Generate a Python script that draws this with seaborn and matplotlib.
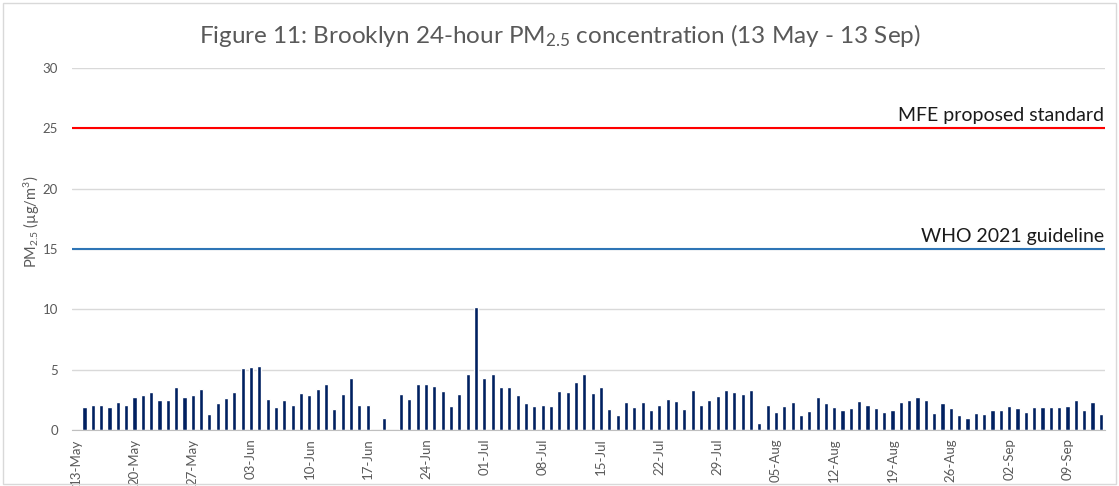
import matplotlib
matplotlib.use("Agg")
import matplotlib.pyplot as plt
import matplotlib.patches as patches
import numpy as np
import pandas as pd
import seaborn as sns

# daily 24-hour PM2.5, 13 May - 13 Sep (nan = no data)
may = [np.nan, 1.94, 2.06, 2.11, 1.89, 2.31, 2.06, 2.72, 2.92, 3.14, 2.5, 2.5,
       3.61, 2.78, 2.94, 3.44, 1.33, 2.25, 2.67]
jun = [3.14, 5.11, 5.25, 5.28, 2.58, 1.94, 2.53, 2.11, 3.08, 2.94, 3.39, 3.81,
       1.78, 2.97, 4.28, 2.08, 2.11, np.nan, 1.0, np.nan, 3.03, 2.56, 3.81, 3.81,
       3.69, 3.28, 2.0, 3.03, 4.61, 10.17]
jul = [4.33, 4.64, 3.56, 3.61, 2.92, 2.25, 2.0, 2.11, 2.0, 3.22, 3.17, 4.0,
       4.64, 3.08, 3.56, 1.78, 1.22, 2.36, 1.94, 2.36, 1.69, 2.06, 2.58, 2.44,
       1.78, 3.33, 2.11, 2.53, 2.83, 3.36, 3.17]
aug = [3.03, 3.33, 0.61, 2.11, 1.47, 2.0, 2.36, 1.22, 1.61, 2.78, 2.25, 1.94,
       1.69, 1.83, 2.44, 2.06, 1.86, 1.53, 1.64, 2.36, 2.53, 2.78, 2.5, 1.39,
       2.25, 1.83, 1.28, 1.0, 1.44, 1.33, 1.69]
sep = [1.64, 2.0, 1.83, 1.53, 1.89, 1.94, 1.94, 1.89, 2.0, 2.5, 1.69, 2.31, 1.33]

dates = pd.date_range("2023-05-13", "2023-09-13", freq="D")
labels = [d.strftime("%d-%b") for d in dates]
pm25 = may + jun + jul + aug + sep

mfe_standard = 25
who_guideline = 15

sns.set_style("white")
plt.rcParams["font.family"] = ["Lato", "DejaVu Sans"]
plt.rcParams["mathtext.fontset"] = "custom"
plt.rcParams["mathtext.rm"] = "Lato"
plt.rcParams["mathtext.default"] = "regular"

df = pd.DataFrame({"date": labels, "pm25": pm25})

fig = plt.figure(figsize=(11.19, 4.86), dpi=100)
ax = fig.add_axes([0.0643, 0.115, 0.9232, 0.745])

sns.barplot(data=df, x="date", y="pm25", order=labels, color="#002060",
            width=0.5, errorbar=None, ax=ax, saturation=1)

ax.axhline(mfe_standard, color="#FF0000", lw=1.5, zorder=3)
ax.axhline(who_guideline, color="#2E75B6", lw=1.5, zorder=3)
n = len(labels)
ax.text(n - 0.6, mfe_standard + 0.35, "MFE proposed standard", ha="right",
        va="bottom", fontsize=14, color="#1a1a1a")
ax.text(n - 0.6, who_guideline + 0.35, "WHO 2021 guideline", ha="right",
        va="bottom", fontsize=14, color="#1a1a1a")

ax.set_xlim(-0.5, n - 0.5)
ax.set_ylim(0, 30)
ax.set_yticks(range(0, 31, 5))
ax.yaxis.grid(True, color="#D9D9D9", lw=1)
ax.set_axisbelow(True)
ax.tick_params(axis="y", length=0, labelsize=9.5, labelcolor="#595959", pad=10)

tick_idx = list(range(0, n, 7))
ax.set_xticks(tick_idx)
ax.set_xticklabels([labels[i] for i in tick_idx], rotation=90, fontsize=9.5,
                   color="#595959")
ax.set_xticks([i - 0.5 for i in tick_idx], minor=True)
ax.tick_params(axis="x", which="major", length=0, pad=6)
ax.tick_params(axis="x", which="minor", length=5, color="#BFBFBF", width=1)

for s in ["top", "right", "left"]:
    ax.spines[s].set_visible(False)
ax.spines["bottom"].set_color("#BFBFBF")

ax.set_xlabel("")
ax.set_ylabel("PM$_{2.5}$ (µg/m$^{3}$)", fontsize=10.5, color="#595959")
ax.yaxis.set_label_coords(-0.029, 0.575)

fig.suptitle("Figure 11: Brooklyn 24-hour PM$_{2.5}$ concentration (13 May - 13 Sep)",
             y=0.955, fontsize=17.5, color="#595959")

fig.patches.append(patches.Rectangle((0.003, 0.004), 0.994, 0.99,
                                     transform=fig.transFigure, fill=False,
                                     edgecolor="#D9D9D9", lw=1))

fig.savefig("out.png", dpi=100)
